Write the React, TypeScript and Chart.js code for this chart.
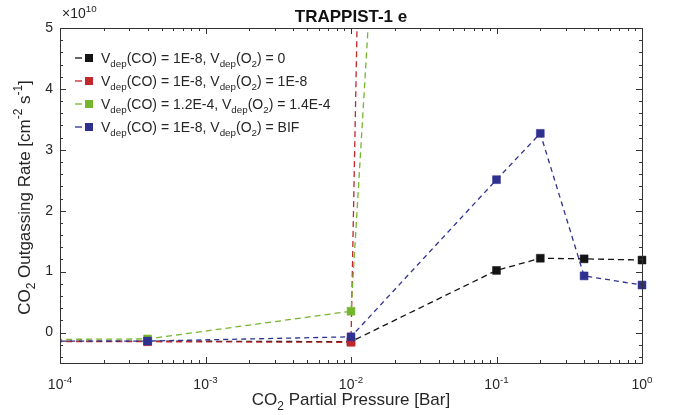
import React, { useEffect, useRef } from "react";
import { Chart, registerables } from "chart.js";

Chart.register(...registerables);

// CO2 partial pressure [bar]
const pressureBlack = [5e-5, 4e-4, 1e-2, 0.1, 0.2, 0.4, 1.0];
const pressureRed = [5e-5, 4e-4, 1e-2, 0.02];
const pressureGreen = [5e-5, 4e-4, 1e-2, 0.02];
const pressureBlue = [5e-5, 4e-4, 1e-2, 0.1, 0.2, 0.4, 1.0];

// CO2 outgassing rate, in units of 1e10 cm^-2 s^-1
const rateBlack = [-0.14, -0.14, -0.15, 1.02, 1.22, 1.21, 1.19];
const rateRed = [-0.15, -0.15, -0.16, 37.4];
const rateGreen = [-0.115, -0.105, 0.35, 12.3];
const rateBlue = [-0.14, -0.14, -0.07, 2.51, 3.27, 0.93, 0.78];

const xMajorTicks = [1e-4, 1e-3, 1e-2, 1e-1, 1];
const xTickExponents = ["-4", "-3", "-2", "-1", "0"];
const yMajorTicks = [0, 1, 2, 3, 4, 5];
const yTickLabels = ["0", "1", "2", "3", "4", "5"];

type Seg = { t: string; m?: "sub" | "sup" };

const legendEntries: { color: string; segs: Seg[] }[] = [
  {
    color: "#141414",
    segs: [{ t: "V" }, { t: "dep", m: "sub" }, { t: "(CO) = 1E-8, V" }, { t: "dep", m: "sub" }, { t: "(O" }, { t: "2", m: "sub" }, { t: ") = 0" }],
  },
  {
    color: "#c1272d",
    segs: [{ t: "V" }, { t: "dep", m: "sub" }, { t: "(CO) = 1E-8, V" }, { t: "dep", m: "sub" }, { t: "(O" }, { t: "2", m: "sub" }, { t: ") = 1E-8" }],
  },
  {
    color: "#77b52f",
    segs: [{ t: "V" }, { t: "dep", m: "sub" }, { t: "(CO) = 1.2E-4, V" }, { t: "dep", m: "sub" }, { t: "(O" }, { t: "2", m: "sub" }, { t: ") = 1.4E-4" }],
  },
  {
    color: "#2e3190",
    segs: [{ t: "V" }, { t: "dep", m: "sub" }, { t: "(CO) = 1E-8, V" }, { t: "dep", m: "sub" }, { t: "(O" }, { t: "2", m: "sub" }, { t: ") = BIF" }],
  },
];

const FONT = 'Helvetica, "Liberation Sans", Arial, sans-serif';
const TEXT = "#262626";

function richWidth(ctx: CanvasRenderingContext2D, segs: Seg[], size: number) {
  let w = 0;
  for (const s of segs) {
    const fs = s.m ? size * 0.7 : size;
    ctx.font = `${fs}px ${FONT}`;
    w += ctx.measureText(s.t).width;
  }
  return w;
}

function drawRich(
  ctx: CanvasRenderingContext2D,
  segs: Seg[],
  x: number,
  y: number,
  size: number,
  align: "left" | "center" = "left"
) {
  const w = richWidth(ctx, segs, size);
  let cx = align === "center" ? x - w / 2 : x;
  ctx.textBaseline = "alphabetic";
  ctx.textAlign = "left";
  for (const s of segs) {
    const fs = s.m ? size * 0.7 : size;
    ctx.font = `${fs}px ${FONT}`;
    const dy = s.m === "sub" ? size * 0.3 : s.m === "sup" ? -size * 0.45 : 0;
    ctx.fillText(s.t, cx, y + dy);
    cx += ctx.measureText(s.t).width;
  }
}

const decorPlugin = {
  id: "matlabDecor",
  afterDraw(chart: any) {
    const ctx: CanvasRenderingContext2D = chart.ctx;
    const { left, right, top, bottom } = chart.chartArea;
    const xs = chart.scales.x;
    const ys = chart.scales.y;
    ctx.save();
    // box
    ctx.strokeStyle = "#333";
    ctx.lineWidth = 1;
    ctx.strokeRect(Math.round(left) + 0.5, Math.round(top) + 0.5, Math.round(right - left), Math.round(bottom - top));
    ctx.beginPath();
    // x ticks (major + minor) on bottom and top
    for (let d = -4; d < 0; d++) {
      for (let k = 1; k <= 9; k++) {
        const v = k * Math.pow(10, d);
        const px = Math.round(xs.getPixelForValue(v)) + 0.5;
        const len = k === 1 ? 6 : 3;
        ctx.moveTo(px, bottom);
        ctx.lineTo(px, bottom - len);
        ctx.moveTo(px, top);
        ctx.lineTo(px, top + len);
      }
    }
    // y ticks
    for (let i = -2; i <= 25; i++) {
      const v = i * 0.2;
      const py = Math.round(ys.getPixelForValue(v)) + 0.5;
      const len = i % 5 === 0 ? 6 : 3;
      ctx.moveTo(left, py);
      ctx.lineTo(left + len, py);
      ctx.moveTo(right, py);
      ctx.lineTo(right - len, py);
    }
    ctx.stroke();

    ctx.fillStyle = TEXT;
    // x tick labels
    xMajorTicks.forEach((v, i) => {
      const px = xs.getPixelForValue(v);
      drawRich(ctx, [{ t: "10" }, { t: xTickExponents[i], m: "sup" }], px, bottom + 26, 14, "center");
    });
    // y tick labels
    ctx.font = `14px ${FONT}`;
    ctx.textAlign = "right";
    ctx.textBaseline = "middle";
    yMajorTicks.forEach((v, i) => {
      ctx.fillText(yTickLabels[i], left - 7, ys.getPixelForValue(v));
    });
    // exponent marker
    drawRich(ctx, [{ t: "\u00d710" }, { t: "10", m: "sup" }], left + 2, top - 10, 14, "left");
    // title
    ctx.fillStyle = "#111";
    ctx.font = `bold 17px ${FONT}`;
    ctx.textAlign = "center";
    ctx.textBaseline = "alphabetic";
    ctx.fillText("TRAPPIST-1 e", (left + right) / 2, top - 6);
    ctx.fillStyle = TEXT;
    // x axis label
    drawRich(
      ctx,
      [{ t: "CO" }, { t: "2", m: "sub" }, { t: " Partial Pressure [Bar]" }],
      (left + right) / 2,
      bottom + 42,
      17,
      "center"
    );
    // y axis label
    ctx.save();
    ctx.translate(left - 30, (top + bottom) / 2 + 2);
    ctx.rotate(-Math.PI / 2);
    drawRich(
      ctx,
      [
        { t: "CO" },
        { t: "2", m: "sub" },
        { t: " Outgassing Rate [cm" },
        { t: "-2", m: "sup" },
        { t: " s" },
        { t: "-1", m: "sup" },
        { t: "]" },
      ],
      0,
      0,
      17,
      "center"
    );
    ctx.restore();

    // legend
    legendEntries.forEach((e, i) => {
      const y = top + 30 + i * 23;
      ctx.strokeStyle = e.color;
      ctx.lineWidth = 1.3;
      ctx.beginPath();
      ctx.moveTo(left + 15, y);
      ctx.lineTo(left + 22, y);
      ctx.stroke();
      ctx.fillStyle = e.color;
      ctx.fillRect(left + 25, y - 4, 8, 8);
      ctx.fillStyle = TEXT;
      drawRich(ctx, e.segs, left + 41, y + 5, 14, "left");
    });
    ctx.restore();
  },
};

function makeData(xv: number[], yv: number[]) {
  return xv.map((x, i) => ({ x, y: yv[i] }));
}

export default function App() {
  const ref = useRef<HTMLCanvasElement | null>(null);
  useEffect(() => {
    document.body.style.margin = "0";
    const canvas = ref.current;
    if (!canvas) return;
    const common = {
      pointStyle: "rect" as const,
      pointRadius: 5.6,
      borderWidth: 1.3,
      pointBorderWidth: 0.5,
      fill: false,
      tension: 0,
      clip: { left: 0, top: 0, right: false, bottom: 0 } as any,
    };
    const chart = new Chart(canvas, {
      type: "line",
      data: {
        datasets: [
          {
            label: "black",
            data: makeData(pressureBlack, rateBlack),
            borderColor: "#141414",
            backgroundColor: "#141414",
            pointBorderColor: "#141414",
            borderDash: [6, 4],
            order: 3,
            ...common,
          },
          {
            label: "red",
            data: makeData(pressureRed, rateRed),
            borderColor: "#c1272d",
            backgroundColor: "#c1272d",
            pointBorderColor: "#c1272d",
            borderDash: [6, 4],
            order: 2,
            ...common,
          },
          {
            label: "green",
            data: makeData(pressureGreen, rateGreen),
            borderColor: "#77b52f",
            backgroundColor: "#77b52f",
            pointBorderColor: "#77b52f",
            borderDash: [6, 4],
            order: 1,
            ...common,
          },
          {
            label: "blue",
            data: makeData(pressureBlue, rateBlue),
            borderColor: "#2e3190",
            backgroundColor: "#2e3190",
            pointBorderColor: "#2e3190",
            borderDash: [5, 4],
            order: 0,
            ...common,
          },
        ],
      },
      options: {
        animation: false,
        responsive: false,
        maintainAspectRatio: false,
        layout: { padding: { left: 60, right: 38, top: 28, bottom: 52 } },
        plugins: { legend: { display: false }, tooltip: { enabled: false } },
        scales: {
          x: { type: "logarithmic", min: 1e-4, max: 1, display: false },
          y: { type: "linear", min: -0.5, max: 5, display: false },
        },
      },
      plugins: [decorPlugin],
    });
    return () => chart.destroy();
  }, []);
  return <canvas ref={ref} width={680} height={415} style={{ display: "block" }} />;
}
